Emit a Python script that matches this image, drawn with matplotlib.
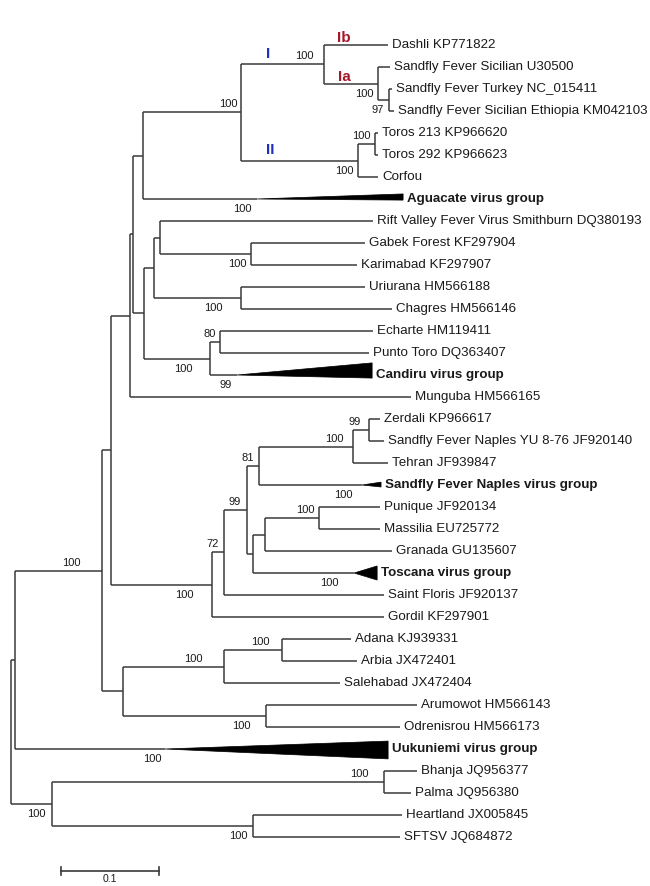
import matplotlib
matplotlib.use("Agg")
import matplotlib.pyplot as plt
from matplotlib.patches import Polygon

# ---------------- data: tree in preorder ----------------
node_ids = ["root", "n_in", "n102", "nX", "nQ", "nP", "n143", "n241", "n324",
            "Dashli", "n378", "U30500", "n389", "Turkey", "Ethiopia",
            "n358", "n375", "Toros213", "Toros292", "Corfou", "Aguacate",
            "n145", "n156", "n160", "RVF", "n251", "Gabek", "Karimabad",
            "n241b", "Uriurana", "Chagres", "n210", "n220", "Echarte",
            "PuntoToro", "Candiru", "Munguba", "nA", "nB", "nC", "nD", "nE",
            "nF", "Zerdali", "SFNYU", "Tehran", "SFNgroup", "nG", "nH", "nI",
            "Punique", "Massilia", "Granada", "Toscana", "SaintFloris",
            "Gordil", "n122", "n224", "n282", "Adana", "Arbia", "Salehabad",
            "n266", "Arumowot", "Odrenisrou", "Uukuniemi", "n52", "n384",
            "Bhanja", "Palma", "n253", "Heartland", "SFTSV"]

parents = [None, "root", "n_in", "n102", "nX", "nQ", "nP", "n143", "n241",
           "n324", "n324", "n378", "n378", "n389", "n389",
           "n241", "n358", "n375", "n375", "n358", "n143",
           "nP", "n145", "n156", "n160", "n160", "n251", "n251",
           "n156", "n241b", "n241b", "n145", "n210", "n220",
           "n220", "n210", "nQ", "nX", "nA", "nB", "nC", "nD",
           "nE", "nF", "nF", "nE", "nD", "nC", "nG", "nH",
           "nI", "nI", "nH", "nG", "nB",
           "nA", "n102", "n122", "n224", "n282", "n282", "n224",
           "n122", "n266", "n266", "n_in", "root", "n52",
           "n384", "n384", "n52", "n253", "n253"]

branch_len = [0.0, 0.0036, 0.0888, 0.0097, 0.0194, 0.0031, 0.0102, 0.1000, 0.0847,
              0.0653, 0.0551, 0.0122, 0.0112, 0.0031, 0.0051,
              0.1194, 0.0173, 0.0031, 0.0031, 0.0204, 0.1163,
              0.0112, 0.0102, 0.0061, 0.2173, 0.0929, 0.1163, 0.1082,
              0.0888, 0.1265, 0.1541, 0.0673, 0.0102, 0.1561,
              0.1520, 0.0276, 0.2867, 0.1031, 0.0122, 0.0235, 0.0122, 0.0959,
              0.0163, 0.0112, 0.0153, 0.0357, 0.1051, 0.0061, 0.0122, 0.0551,
              0.0622, 0.0622, 0.1296, 0.1031, 0.1633,
              0.1755, 0.0219, 0.1031, 0.0592, 0.0704, 0.0765, 0.1184,
              0.1459, 0.1541, 0.1367, 0.1536, 0.0418, 0.3388,
              0.0337, 0.0276, 0.2051, 0.1520, 0.1500]

# depth of collapsed clades (triangles)
group_depth = {"Aguacate": 0.1490, "Candiru": 0.1378, "SFNgroup": 0.0194,
               "Toscana": 0.0235, "Uukuniemi": 0.2276}

tip_labels = {
    "Dashli": "Dashli KP771822",
    "U30500": "Sandfly Fever Sicilian U30500",
    "Turkey": "Sandfly Fever Turkey NC_015411",
    "Ethiopia": "Sandfly Fever Sicilian Ethiopia KM042103",
    "Toros213": "Toros 213 KP966620",
    "Toros292": "Toros 292 KP966623",
    "Corfou": "Corfou",
    "Aguacate": "Aguacate virus group",
    "RVF": "Rift Valley Fever Virus Smithburn DQ380193",
    "Gabek": "Gabek Forest KF297904",
    "Karimabad": "Karimabad KF297907",
    "Uriurana": "Uriurana HM566188",
    "Chagres": "Chagres HM566146",
    "Echarte": "Echarte HM119411",
    "PuntoToro": "Punto Toro DQ363407",
    "Candiru": "Candiru virus group",
    "Munguba": "Munguba HM566165",
    "Zerdali": "Zerdali KP966617",
    "SFNYU": "Sandfly Fever Naples YU 8-76 JF920140",
    "Tehran": "Tehran JF939847",
    "SFNgroup": "Sandfly Fever Naples virus group",
    "Punique": "Punique JF920134",
    "Massilia": "Massilia EU725772",
    "Granada": "Granada GU135607",
    "Toscana": "Toscana virus group",
    "SaintFloris": "Saint Floris JF920137",
    "Gordil": "Gordil KF297901",
    "Adana": "Adana KJ939331",
    "Arbia": "Arbia JX472401",
    "Salehabad": "Salehabad JX472404",
    "Arumowot": "Arumowot HM566143",
    "Odrenisrou": "Odrenisrou HM566173",
    "Uukuniemi": "Uukuniemi virus group",
    "Bhanja": "Bhanja JQ956377",
    "Palma": "Palma JQ956380",
    "Heartland": "Heartland JX005845",
    "SFTSV": "SFTSV JQ684872",
}

bootstrap = {"n102": 100, "n241": 100, "n324": 100, "n378": 100, "n389": 97,
             "n358": 100, "n375": 100, "Aguacate": 100, "n251": 100,
             "n241b": 100, "n210": 100, "n220": 80, "Candiru": 99,
             "nA": 100, "nB": 72, "nC": 99, "nD": 81, "nE": 100, "nF": 99,
             "SFNgroup": 100, "nI": 100, "Toscana": 100, "n224": 100,
             "n282": 100, "n266": 100, "Uukuniemi": 100, "n52": 100,
             "n384": 100, "n253": 100}

clade_names = ["I", "II", "Ib", "Ia"]
clade_nodes = ["n324", "n358", "Dashli", "n378"]

scale_bar_value = 0.1

# ---------------- layout / style ----------------
# bootstrap placement: side ('a' above / 'b' below) and gap (px) left of node
bs_layout = {"n102": ("a", 21), "n241": ("a", 4), "n324": ("a", 11),
             "n378": ("b", 5), "n389": ("b", 5), "n358": ("b", 5),
             "n375": ("a", 4), "Aguacate": ("b", 5), "n251": ("b", 5),
             "n241b": ("b", 19), "n210": ("b", 17), "n220": ("a", 4),
             "Candiru": ("b", 5), "nA": ("b", 19), "nB": ("a", 5),
             "nC": ("a", 6), "nD": ("a", 5), "nE": ("a", 9), "nF": ("a", 8),
             "SFNgroup": ("b", 9), "nI": ("a", 4), "Toscana": ("b", 16),
             "n224": ("a", 21), "n282": ("a", 12), "n266": ("b", 15),
             "Uukuniemi": ("b", 3), "n52": ("b", 6), "n384": ("a", 15),
             "n253": ("b", 5)}
# triangle half-heights (rows): up, down
tri_shape = {"Aguacate": (0.23, 0.05), "Candiru": (0.55, 0.14),
             "SFNgroup": (0.13, 0.09), "Toscana": (0.32, 0.32),
             "Uukuniemi": (0.36, 0.45)}
clade_colors = ["#1f2fc4", "#1f2fc4", "#a5182a", "#a5182a"]
clade_offsets = [(27, 10), (29, 11), (20, 7), (20, 7)]  # px from parent node

LINE = "#3a3a3a"
TXT = "#1a1a1a"
PX = 980.0      # pixels per unit branch length
ROW = 22.0      # pixels per row
X0, Y0 = 11.0, 45.0
FONT = "Liberation Sans"

# ---------------- compute coordinates ----------------
children = {n: [] for n in node_ids}
for n, p in zip(node_ids, parents):
    if p is not None:
        children[p].append(n)
blen = dict(zip(node_ids, branch_len))
par = dict(zip(node_ids, parents))

xpos, ypos = {}, {}
row = [0]


def walk(n, x):
    xpos[n] = x
    for c in children[n]:
        walk(c, x + blen[c])
    if children[n]:
        ypos[n] = (ypos[children[n][0]] + ypos[children[n][-1]]) / 2.0
    else:
        ypos[n] = row[0]
        row[0] += 1


walk("root", 0.0)

fig = plt.figure(figsize=(6.5, 8.86), dpi=100)
ax = fig.add_axes([0, 0, 1, 1])
ax.set_xlim(-X0 / PX, (650 - X0) / PX)
ax.set_ylim((886 - Y0) / ROW, -Y0 / ROW)
ax.axis("off")

lw = 1.1
for n in node_ids:
    p = par[n]
    if p is not None:
        ax.plot([xpos[p], xpos[n]], [ypos[n], ypos[n]], color=LINE, lw=lw,
                solid_capstyle="butt")
    if children[n]:
        ys = [ypos[c] for c in children[n]]
        ax.plot([xpos[n], xpos[n]], [min(ys), max(ys)], color=LINE, lw=lw,
                solid_capstyle="butt")
    if n in group_depth:
        up, dn = tri_shape[n]
        x1 = xpos[n] + group_depth[n]
        tri = Polygon([(xpos[n], ypos[n]), (x1, ypos[n] - up), (x1, ypos[n] + dn)],
                      closed=True, facecolor="black", edgecolor="black", lw=0.5)
        ax.add_patch(tri)

# tip labels
for n, lab in tip_labels.items():
    x_end = xpos[n] + group_depth.get(n, 0.0)
    bold = n in group_depth
    ax.annotate(lab, (x_end, ypos[n]), xytext=(4, 0), textcoords="offset pixels",
                ha="left", va="center", fontsize=9.6, family=FONT,
                fontweight="bold" if bold else "normal", color=TXT)

# bootstrap labels
for n, v in bootstrap.items():
    side, gap = bs_layout[n]
    dy = 8 if side == "a" else -10
    ax.annotate(str(v), (xpos[n], ypos[n]), xytext=(-gap, dy),
                textcoords="offset pixels", ha="right", va="center",
                fontsize=8, family=FONT, color=TXT)

# clade labels
for name, node, col, (dx, dy) in zip(clade_names, clade_nodes, clade_colors,
                                     clade_offsets):
    p = par[node]
    ax.annotate(name, (xpos[p], ypos[node]), xytext=(dx, dy),
                textcoords="offset pixels", ha="center", va="center",
                fontsize=11, family=FONT, fontweight="bold", color=col)

# scale bar
sb_x0 = (61 - X0) / PX
sb_y = (871 - Y0) / ROW
ax.plot([sb_x0, sb_x0 + scale_bar_value], [sb_y, sb_y], color=LINE, lw=1.2)
for xx in (sb_x0, sb_x0 + scale_bar_value):
    ax.plot([xx, xx], [sb_y - 0.2, sb_y + 0.2], color=LINE, lw=1.2)
ax.annotate(f"{scale_bar_value:g}", (sb_x0 + scale_bar_value / 2, sb_y),
            xytext=(0, -8), textcoords="offset pixels", ha="center", va="center",
            fontsize=7.5, family=FONT, color=TXT)

fig.savefig("out.png", dpi=100, facecolor="white")
